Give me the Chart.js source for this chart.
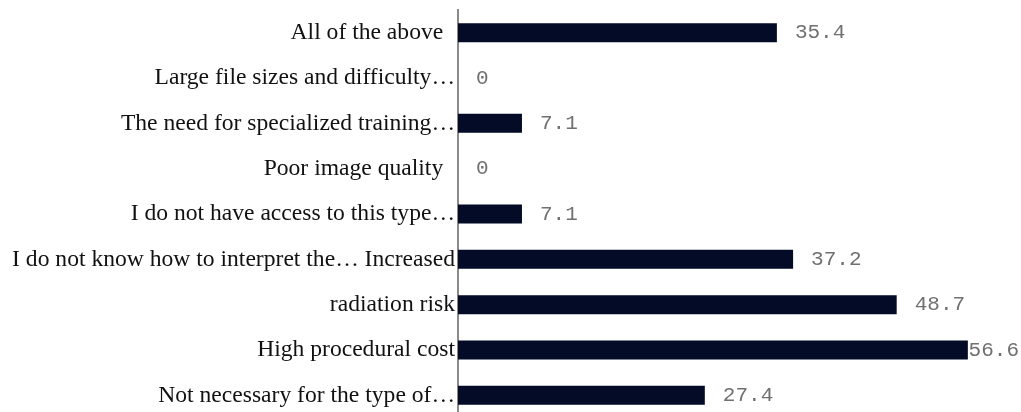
<!DOCTYPE html>
<html>
<head>
<meta charset="utf-8">
<style>
  html, body { margin: 0; padding: 0; background: #ffffff; overflow: hidden; }
  #wrap { width: 1021px; height: 418px; position: relative; }
</style>
<script src="https://cdn.jsdelivr.net/npm/chart.js@4/dist/chart.umd.min.js"></script>
</head>
<body>
<div id="wrap"><canvas id="chart" width="1021" height="418"></canvas></div>
<script>
// Reasons given, top to bottom, and the share of respondents (%) for each
const categories = [
  'All of the above  ',
  'Large file sizes and difficulty\u2026',
  'The need for specialized training\u2026',
  'Poor image quality  ',
  'I do not have access to this type\u2026',
  'I do not know how to interpret the\u2026 Increased',
  'radiation risk',
  'High procedural cost',
  'Not necessary for the type of\u2026'
];
const percentages = [35.4, 0, 7.1, 0, 7.1, 37.2, 48.7, 56.6, 27.4];
const valueLabels = ['35.4', '0', '7.1', '0', '7.1', '37.2', '48.7', '56.6', '27.4'];

// Writes each value just past the end of its bar, kept inside the canvas
const barValueLabels = {
  id: 'barValueLabels',
  beforeDatasetsDraw(chart) {
    const ctx = chart.ctx;
    const meta = chart.getDatasetMeta(0);
    ctx.save();
    ctx.font = '21px "Liberation Mono", "DejaVu Sans Mono", monospace';
    ctx.fillStyle = '#707070';
    ctx.textAlign = 'left';
    ctx.textBaseline = 'middle';
    meta.data.forEach((bar, i) => {
      const text = valueLabels[i];
      const w = ctx.measureText(text).width;
      const x = Math.min(bar.x + 18, chart.width - 2 - w);
      ctx.fillText(text, x, bar.y);
    });
    ctx.restore();
  }
};

new Chart(document.getElementById('chart'), {
  type: 'bar',
  data: {
    labels: categories,
    datasets: [{
      data: percentages,
      backgroundColor: '#030b26',
      borderWidth: 0,
      barPercentage: 0.42,
      categoryPercentage: 1.0
    }]
  },
  options: {
    indexAxis: 'y',
    responsive: false,
    animation: false,
    layout: { padding: { top: 10, bottom: 0, left: 0, right: 0 } },
    plugins: {
      legend: { display: false },
      tooltip: { enabled: false }
    },
    scales: {
      x: {
        display: false,
        min: 0,
        max: 62.5
      },
      y: {
        afterFit(scale) {
          scale.width = 458;
          scale.paddingTop = 0;
          scale.paddingBottom = 0;
        },
        grid: { display: false, drawTicks: false },
        border: { display: true, color: '#8a8a8a', width: 2 },
        ticks: {
          autoSkip: false,
          padding: 3,
          color: '#111111',
          font: { family: '"Liberation Serif", "Times New Roman", serif', size: 23.6 }
        }
      }
    }
  },
  plugins: [barValueLabels]
});
</script>
</body>
</html>
